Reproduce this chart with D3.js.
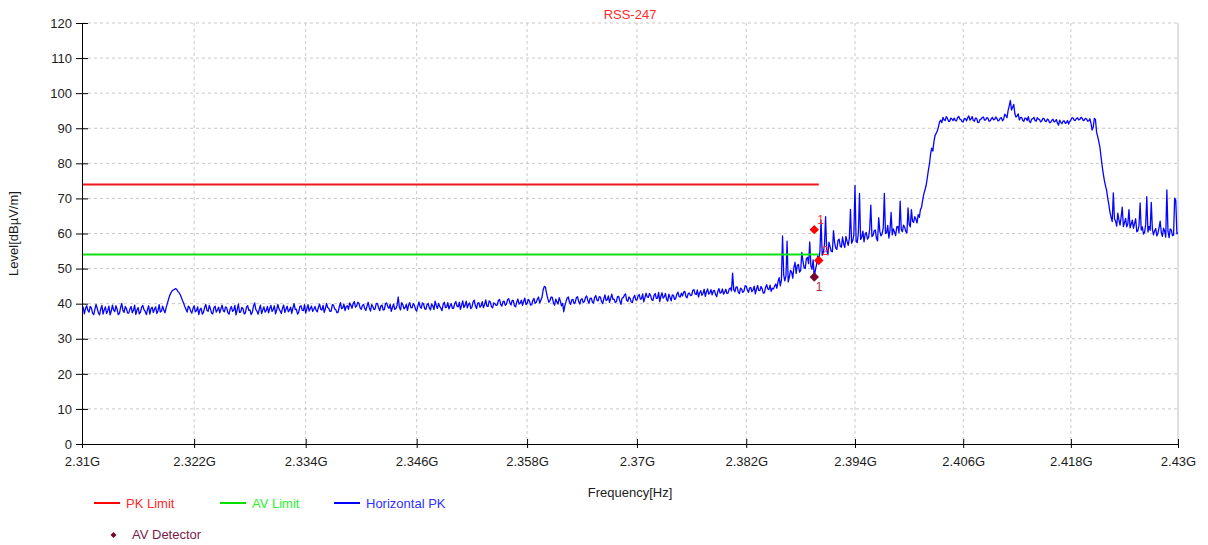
<!DOCTYPE html>
<html>
<head>
<meta charset="utf-8">
<script src="https://cdn.jsdelivr.net/npm/d3@7"></script>
<style>
  html, body { margin: 0; padding: 0; background: #ffffff; }
  svg { display: block; font-family: "Liberation Sans", Arial, sans-serif; }
</style>
</head>
<body>
<svg id="chart" width="1208" height="545"></svg>
<script>
// ---------- data ----------
const chartTitle = "RSS-247";
const xTickValues = [2.31, 2.322, 2.334, 2.346, 2.358, 2.37, 2.382, 2.394, 2.406, 2.418, 2.43];
const xTickLabels = ["2.31G", "2.322G", "2.334G", "2.346G", "2.358G", "2.37G", "2.382G", "2.394G", "2.406G", "2.418G", "2.43G"];
const yTickValues = [0, 10, 20, 30, 40, 50, 60, 70, 80, 90, 100, 110, 120];

const pkLimit = [{ f: 2.31, v: 74 }, { f: 2.39, v: 74 }];
const avLimit = [{ f: 2.31, v: 54 }, { f: 2.39, v: 54 }];

const pkMarkers = [{ f: 2.3895, v: 61.1, label: "1" }, { f: 2.3900, v: 52.3, label: "2" }];
const avMarkers = [{ f: 2.3895, v: 47.6, label: "1" }];

// Horizontal PK trace: level (dBµV/m) sampled every 0.125 MHz from 2.31 GHz
const traceStartGHz = 2.31;
const traceStepGHz = 0.000125;
const traceLevels = [
  38.2,39.0,37.1,38.6,39.4,38.1,37.6,39.2,38.8,37.3,36.9,38.4,39.8,38.7,37.4,36.8,38.5,39.5,37.0,38.3,39.1,37.2,38.0,39.3,36.8,37.9,39.6,38.2,37.7,39.4,38.4,36.9,37.2,38.9,40.1,38.0,37.5,39.2,38.6,37.3,
  37.3,38.5,39.2,37.4,38.1,39.6,36.9,38.2,38.9,37.1,37.6,39.0,39.5,38.3,37.8,36.9,38.3,39.4,37.0,38.6,39.0,37.5,38.4,39.1,37.2,38.0,39.7,37.6,37.9,39.3,38.2,37.4,38.9,40.0,41.2,42.3,43.0,43.6,43.9,44.0,
  44.3,44.1,43.5,43.2,42.6,41.8,40.9,40.1,39.2,38.4,37.6,39.3,38.9,37.9,37.3,38.6,39.4,37.7,38.0,39.1,36.9,38.3,38.7,37.0,37.5,38.9,39.8,38.1,37.8,39.5,38.5,37.3,37.1,38.8,39.3,37.6,38.2,39.0,37.4,38.5,
  39.6,38.0,37.7,39.1,38.8,37.4,37.0,38.5,39.2,37.8,38.1,39.5,36.8,38.3,39.9,37.5,37.6,38.9,38.6,37.1,37.3,39.0,39.4,38.1,38.2,36.9,37.5,39.3,40.2,38.4,37.9,37.0,38.4,39.6,37.2,38.2,39.1,37.6,38.0,39.2,
  37.4,38.6,39.5,37.8,38.3,39.4,37.1,38.2,39.8,38.5,37.9,37.2,38.7,39.6,37.5,38.4,39.3,37.7,38.1,39.0,37.2,38.8,40.0,38.3,38.4,37.0,37.6,39.2,39.4,38.1,38.0,39.7,37.3,38.5,39.7,37.9,38.6,39.3,37.8,38.4,
  39.2,38.1,37.7,39.0,39.9,38.4,38.2,39.5,37.5,38.6,40.1,38.9,38.6,37.8,37.9,39.7,39.6,38.5,38.3,37.4,37.6,39.1,40.3,38.6,38.8,39.9,38.0,39.2,39.4,38.4,40.2,39.6,38.7,40.0,40.6,39.0,39.3,40.4,40.1,38.8,
  38.4,39.5,39.8,38.6,38.1,39.3,40.4,38.8,37.9,39.7,39.2,38.3,38.5,40.1,40.0,38.9,38.0,39.4,39.6,38.2,38.3,40.0,40.2,39.1,38.7,39.8,37.8,38.9,39.9,38.4,38.6,39.5,41.9,39.0,38.2,40.3,39.7,38.5,38.9,39.8,
  38.1,39.6,40.3,38.9,38.8,40.0,39.6,38.4,37.9,39.3,40.5,39.1,38.7,40.2,39.9,38.5,38.4,39.7,40.1,38.8,38.2,39.9,39.4,38.3,40.7,39.5,38.6,40.1,39.2,38.7,38.0,39.8,40.4,38.9,39.0,40.3,38.5,39.4,40.0,38.7,
  38.7,40.0,40.6,39.3,39.1,40.4,38.4,39.6,40.8,38.9,39.5,40.7,38.8,39.8,40.2,38.6,39.0,40.5,41.0,39.4,38.6,40.1,40.3,39.0,39.4,40.6,38.9,39.7,41.1,39.3,39.2,40.8,40.5,39.1,38.8,40.2,40.0,39.5,39.6,40.9,
  41.2,39.8,39.3,40.6,40.7,39.5,39.9,41.1,41.4,40.3,39.6,40.9,40.9,39.4,39.1,40.5,41.3,39.9,40.2,41.0,39.5,40.7,41.6,39.8,40.0,41.2,40.8,39.6,39.7,40.9,41.5,40.1,40.4,41.3,41.9,40.2,41.0,41.8,43.9,44.9,
  44.7,42.9,41.5,40.4,40.9,41.9,41.8,40.2,39.6,41.3,40.5,39.9,41.7,40.8,39.4,40.1,37.7,39.5,40.6,41.6,41.9,40.4,39.8,41.1,41.2,40.0,40.3,41.7,42.0,40.6,39.9,41.2,41.4,40.3,40.6,41.8,42.2,40.9,40.1,41.5,
  41.6,40.5,40.2,41.8,42.3,41.0,40.8,42.0,41.9,40.6,40.0,41.4,42.5,40.9,41.1,42.2,40.4,41.5,42.7,41.2,41.3,40.3,40.6,42.0,42.1,40.8,39.8,41.6,41.7,42.4,42.8,41.0,40.7,41.9,41.5,40.5,40.3,41.7,42.4,41.1,
  41.0,42.2,42.6,41.3,41.4,42.8,40.5,41.7,43.0,41.9,41.8,42.9,42.3,41.1,40.9,42.4,42.9,41.5,41.6,43.2,40.6,42.1,43.1,41.6,42.0,42.9,41.2,40.7,42.7,41.8,40.8,42.5,42.4,41.2,41.5,42.7,43.3,42.0,41.9,43.0,
  42.2,43.3,43.5,42.0,41.7,42.9,43.0,42.3,42.4,43.8,44.0,42.8,42.6,43.9,41.9,43.1,43.7,42.4,42.9,44.1,42.1,43.4,44.2,42.7,43.1,44.0,42.5,43.6,43.8,42.6,42.0,43.5,44.3,43.0,43.2,44.2,42.7,43.3,44.1,42.9,
  43.0,44.2,44.5,43.6,48.7,44.0,43.4,44.7,44.8,43.3,42.9,44.4,44.1,43.2,43.6,45.1,45.0,43.9,43.2,44.5,44.6,43.4,43.9,45.0,42.8,44.1,45.2,43.8,43.7,44.9,44.3,43.0,43.1,44.6,45.4,44.2,44.0,45.3,43.5,44.4,
  44.2,45.0,45.6,44.4,46.3,47.4,45.1,46.8,59.3,48.2,46.5,47.9,57.8,46.2,47.6,49.5,49.0,47.3,50.3,51.8,48.6,50.9,51.2,49.0,49.4,54.6,52.1,50.3,50.0,52.8,53.2,51.4,57.6,50.7,49.8,52.5,47.5,49.6,51.1,53.6,
  52.4,55.0,63.8,53.8,54.6,56.7,64.8,55.3,53.9,57.5,56.2,54.9,54.8,60.8,57.3,55.8,55.5,58.1,58.4,56.3,56.1,59.0,57.0,56.0,59.2,57.8,56.6,58.6,66.9,57.2,58.0,59.6,73.7,57.7,57.4,60.2,71.4,58.3,58.9,60.7,
  57.6,59.8,60.3,58.4,58.8,61.2,68.1,59.1,59.5,60.8,61.0,58.6,57.9,64.5,60.6,59.3,59.9,61.5,71.4,60.0,60.2,62.3,58.7,60.9,66.0,59.6,61.3,60.4,59.4,61.9,62.0,60.2,69.2,61.1,60.5,62.4,61.8,60.6,60.1,67.3,
  62.6,61.9,66.8,63.5,63.2,64.8,64.1,63.0,65.4,64.6,66.8,67.5,69.5,71.2,72.4,73.6,75.6,77.9,79.8,82.6,84.3,83.5,86.2,87.9,88.6,89.2,90.4,91.8,92.3,91.6,93.1,92.4,92.2,93.3,92.8,92.0,92.0,92.9,92.6,92.2,
  92.9,92.2,92.1,93.0,93.4,92.6,92.5,91.9,91.8,92.8,92.7,92.1,93.0,93.5,92.3,92.7,93.3,92.2,92.0,92.9,92.8,91.6,91.7,92.5,92.6,93.1,93.2,92.3,92.4,93.0,92.9,92.0,92.1,92.7,93.1,92.4,92.5,93.2,92.8,92.1,
  92.3,92.9,93.0,92.1,92.6,94.0,93.6,93.0,95.1,96.4,97.9,95.2,96.0,96.8,94.2,93.2,93.5,94.1,92.4,93.0,93.1,92.3,92.0,92.9,92.8,92.2,93.3,91.9,91.6,92.6,92.7,93.1,92.2,92.0,93.0,92.6,92.5,91.8,92.1,92.8,
  92.8,92.0,91.9,92.6,92.4,91.6,91.7,92.3,92.6,91.8,92.0,92.5,91.5,90.9,92.3,91.7,91.3,92.0,92.1,91.4,91.6,92.2,91.2,91.9,92.4,93.0,92.9,92.3,92.2,92.8,93.0,92.4,92.5,93.1,92.9,92.2,92.3,92.8,92.7,92.0,
  92.1,92.7,91.4,89.5,90.3,92.8,92.5,88.9,87.6,86.2,84.6,81.8,79.2,77.0,75.1,73.6,72.3,70.0,68.2,66.1,64.6,63.4,71.6,64.2,63.5,62.1,65.8,63.9,62.4,64.7,67.5,62.0,63.1,64.3,61.9,62.8,66.8,61.6,62.7,63.8,
  61.5,62.8,64.2,60.5,60.8,62.3,68.7,61.0,61.9,59.8,60.3,62.6,70.5,60.4,62.0,60.9,68.9,61.2,59.6,60.8,61.4,59.3,60.1,61.7,63.5,60.2,59.2,61.5,60.7,59.0,72.4,60.6,58.8,61.3,61.0,59.4,59.5,70.1,69.4,59.9,
  60.2
];

const legendItems = [
  { name: "PK Limit", color: "#ff0000", text: "#ff2a2a" },
  { name: "AV Limit", color: "#00e000", text: "#2cf02c" },
  { name: "Horizontal PK", color: "#0000ff", text: "#3030ff" }
];

// ---------- layout ----------
const plot = { left: 82, right: 1178, top: 23, bottom: 444 };
const svg = d3.select("#chart");

const x = d3.scaleLog().domain([2.31, 2.43]).range([plot.left, plot.right]);
const y = d3.scaleLinear().domain([0, 120]).range([plot.bottom, plot.top]);

const trace = traceLevels.map((v, i) => ({ f: traceStartGHz + i * traceStepGHz, v }));

// grid
const grid = svg.append("g");
grid.selectAll("line.gx").data(xTickValues.slice(1)).join("line")
  .attr("x1", d => x(d)).attr("x2", d => x(d))
  .attr("y1", plot.top).attr("y2", plot.bottom)
  .attr("stroke", d => d === 2.43 ? "#d4d4d4" : "#c8c8c8")
  .attr("stroke-width", d => d === 2.43 ? 1.5 : 1)
  .attr("stroke-dasharray", d => d === 2.43 ? null : "3,3");
grid.selectAll("line.gy").data(yTickValues.slice(1)).join("line")
  .attr("x1", plot.left).attr("x2", plot.right)
  .attr("y1", d => y(d)).attr("y2", d => y(d))
  .attr("stroke", "#c8c8c8").attr("stroke-width", 1)
  .attr("stroke-dasharray", "3,3");

// clip
svg.append("clipPath").attr("id", "clip").append("rect")
  .attr("x", plot.left).attr("y", plot.top)
  .attr("width", plot.right - plot.left).attr("height", plot.bottom - plot.top);

const line = d3.line().x(d => x(d.f)).y(d => y(d.v));

const plotG = svg.append("g").attr("clip-path", "url(#clip)");
plotG.append("path").datum(trace).attr("d", line)
  .attr("fill", "none").attr("stroke", "#0505ff").attr("stroke-width", 1.3)
  .attr("stroke-linejoin", "round");
plotG.append("path").datum(pkLimit).attr("d", line)
  .attr("fill", "none").attr("stroke", "#f01818").attr("stroke-width", 2);
plotG.append("path").datum(avLimit).attr("d", line)
  .attr("fill", "none").attr("stroke", "#10e010").attr("stroke-width", 2);

// markers (square rotated 45° = diamond)
const diamond = d3.symbol().type(d3.symbolSquare).size(44);
plotG.selectAll("path.pkm").data(pkMarkers).join("path")
  .attr("transform", d => `translate(${x(d.f)},${y(d.v)}) rotate(45)`)
  .attr("d", diamond).attr("fill", "#ff0000");
svg.selectAll("text.pkm").data(pkMarkers).join("text")
  .attr("x", d => x(d.f) + 3).attr("y", d => y(d.v) - 6)
  .attr("fill", "#ff3030").attr("font-size", 12).text(d => d.label);
plotG.selectAll("path.avm").data(avMarkers).join("path")
  .attr("transform", d => `translate(${x(d.f)},${y(d.v)}) rotate(45)`)
  .attr("d", diamond).attr("fill", "#720a30");
svg.selectAll("text.avm").data(avMarkers).join("text")
  .attr("x", d => x(d.f) + 1.5).attr("y", d => y(d.v) + 14)
  .attr("fill", "#b02a48").attr("font-size", 12).text(d => d.label);

// axes
const yAxis = d3.axisLeft(y).tickValues(yTickValues).tickSizeInner(6).tickSizeOuter(0).tickPadding(4);
const yg = svg.append("g").attr("transform", `translate(${plot.left},0)`).call(yAxis);
yg.selectAll(".tick line").attr("x1", 6).attr("x2", -6).attr("stroke", "#000");
yg.select(".domain").attr("stroke", "#000");
yg.selectAll("text").attr("font-size", 13).attr("fill", "#1c1c1c")
  .attr("font-family", "'Liberation Sans', Arial, sans-serif");

const xAxis = d3.axisBottom(x).tickValues(xTickValues)
  .tickFormat((d, i) => xTickLabels[i]).tickSizeInner(4).tickSizeOuter(0).tickPadding(9);
const xg = svg.append("g").attr("transform", `translate(0,${plot.bottom})`).call(xAxis);
xg.selectAll(".tick line").attr("y1", -5).attr("y2", 4).attr("stroke", "#000");
xg.select(".domain").attr("stroke", "#000");
xg.selectAll("text").attr("font-size", 13).attr("fill", "#1c1c1c")
  .attr("font-family", "'Liberation Sans', Arial, sans-serif");

// titles
svg.append("text").attr("x", (plot.left + plot.right) / 2).attr("y", 19)
  .attr("text-anchor", "middle").attr("font-size", 13).attr("fill", "#ff2a2a").text(chartTitle);
svg.append("text").attr("x", (plot.left + plot.right) / 2).attr("y", 497)
  .attr("text-anchor", "middle").attr("font-size", 13).attr("fill", "#1c1c1c").text("Frequency[Hz]");
svg.append("text")
  .attr("transform", `translate(18,${(plot.top + plot.bottom) / 2}) rotate(-90)`)
  .attr("text-anchor", "middle").attr("font-size", 13).attr("fill", "#1c1c1c").text("Level[dBµV/m]");

// legend
const legendX = [94, 220, 334];
const lg = svg.append("g");
legendItems.forEach((item, i) => {
  lg.append("line").attr("x1", legendX[i]).attr("x2", legendX[i] + 26)
    .attr("y1", 503).attr("y2", 503).attr("stroke", item.color).attr("stroke-width", 2);
  lg.append("text").attr("x", legendX[i] + 32).attr("y", 508)
    .attr("font-size", 13).attr("fill", item.text).text(item.name);
});
lg.append("path").attr("transform", "translate(113.5,535) rotate(45)")
  .attr("d", d3.symbol().type(d3.symbolSquare).size(18)).attr("fill", "#720a30");
lg.append("text").attr("x", 132).attr("y", 539)
  .attr("font-size", 13).attr("fill", "#7a1a4c").text("AV Detector");
</script>
</body>
</html>
